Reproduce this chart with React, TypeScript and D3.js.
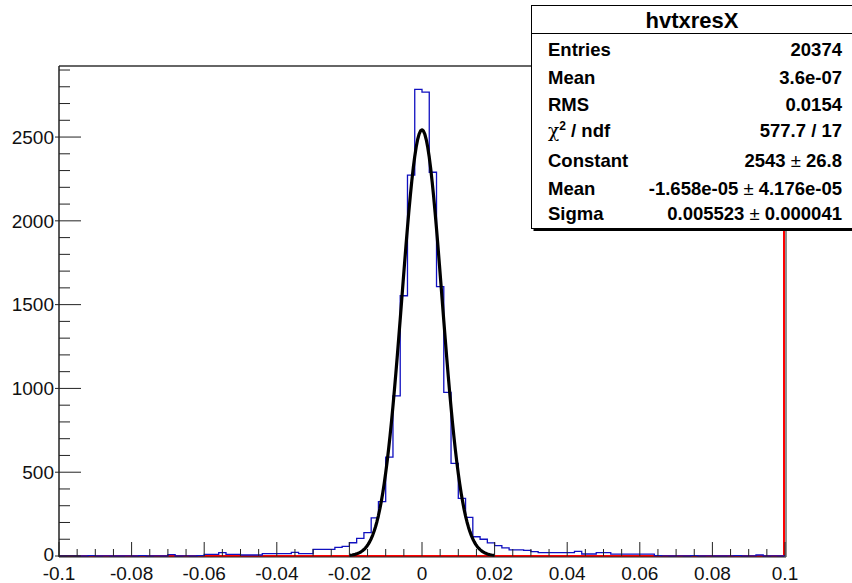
import * as d3 from "d3";
import { useEffect } from "react";

// histogram hvtxresX: 100 bins from -0.1 to 0.1
const binLow = -0.1;
const binWidth = 0.002;
const counts = [
  0, 1, 0, 0, 2, 0, 1, 0, 0, 1, 0, 2, 0, 1, 0,
  8, 0, 1, 0, 2,
  10, 10, 20, 10, 10,
  6, 6, 6, 14, 14,
  14, 14, 22, 14, 14,
  40, 40, 40, 52, 58,
  79, 105, 139, 227, 324,
  590, 955, 1553, 2273, 2785,
  2768, 2290, 1607, 977, 553,
  344, 230, 115, 100, 78,
  62, 48, 36, 36, 34,
  26, 20, 20, 20, 20,
  20, 28, 12, 12, 20,
  20, 11, 11, 11, 11,
  11, 11, 2, 1, 0,
  1, 0, 2, 0, 1,
  0, 0, 1, 2, 0,
  1, 6, 0, 1, 0,
];

// gaussian fit parameters (from stats box)
const fitRange = [-0.02, 0.02];
const fitConstant = 2543;
const fitMean = -1.658e-5;
const fitSigma = 0.005523;

const xTicks = [-0.1, -0.08, -0.06, -0.04, -0.02, 0, 0.02, 0.04, 0.06, 0.08, 0.1];
const xTickLabels = ["-0.1", "-0.08", "-0.06", "-0.04", "-0.02", "0", "0.02", "0.04", "0.06", "0.08", "0.1"];
const yTicks = [0, 500, 1000, 1500, 2000, 2500];

const statsTitle = "hvtxresX";
const statsNames = ["Entries", "Mean", "RMS", "chi2", "Constant", "Mean", "Sigma"];
const statsValues = ["20374", "3.6e-07", "0.0154", "577.7 / 17", "2543 ± 26.8", "-1.658e-05 ± 4.176e-05", "0.005523 ± 0.000041"];
const statsBaselines = [56, 83.5, 111, 137, 166.5, 194.5, 220];

const W = 852;
const H = 583;
const frame = { left: 59, right: 785, top: 66, bottom: 556 };
const font = "'Liberation Sans', Arial, Helvetica, sans-serif";

export default function App() {
  useEffect(() => {
    document.body.style.margin = "0";
  }, []);

  const x = d3.scaleLinear().domain([-0.1, 0.1]).range([frame.left, frame.right]);
  const y = d3.scaleLinear().domain([0, 2924]).range([frame.bottom, frame.top]);

  // step outline of the histogram
  const pts: [number, number][] = counts.map((c, i) => [binLow + i * binWidth, c]);
  pts.push([binLow + counts.length * binWidth, counts[counts.length - 1]]);
  const histPath = d3
    .line<[number, number]>()
    .x((d) => x(d[0]))
    .y((d) => y(d[1]))
    .curve(d3.curveStepAfter)(pts);

  const fitXs = d3.range(0, 101).map((i) => fitRange[0] + ((fitRange[1] - fitRange[0]) * i) / 100);
  const fitPath = d3
    .line<number>()
    .x((d) => x(d))
    .y((d) => y(fitConstant * Math.exp(-0.5 * ((d - fitMean) / fitSigma) ** 2)))(fitXs);

  const xMinor = d3.range(0, 41).map((i) => -0.1 + i * 0.005);
  const yMinor = d3.range(0, 30).map((i) => i * 100);

  const boxX = 531.5;
  const boxY = 5.5;
  const boxW = 330;
  const boxH = 223;

  return (
    <svg width={W} height={H} style={{ display: "block", background: "#fff" }}>
      {/* red histogram (empty) */}
      <line x1={frame.left} x2={frame.right - 1} y1={frame.bottom} y2={frame.bottom} stroke="#ff0000" strokeWidth={2} />
      <line x1={frame.right - 1} x2={frame.right - 1} y1={frame.top} y2={frame.bottom} stroke="#ff0000" strokeWidth={2} />

      {/* blue histogram */}
      <path d={histPath ?? ""} fill="none" stroke="#1010c0" strokeWidth={1.3} />

      {/* fit */}
      <path d={fitPath ?? ""} fill="none" stroke="#000" strokeWidth={3.2} strokeLinejoin="round" />

      {/* frame */}
      <line x1={frame.left} x2={frame.right} y1={frame.top} y2={frame.top} stroke="#333" strokeWidth={1.5} />
      <line x1={frame.left} x2={frame.left} y1={frame.top} y2={frame.bottom + 1} stroke="#222" strokeWidth={1.5} />
      <line x1={frame.left} x2={frame.right + 1} y1={frame.bottom + 1} y2={frame.bottom + 1} stroke="#222" strokeWidth={1.2} />
      <line x1={frame.right + 1} x2={frame.right + 1} y1={frame.top} y2={frame.bottom + 1} stroke="#222" strokeWidth={1} />

      {/* x ticks */}
      {xMinor.map((t, i) => {
        const major = i % 4 === 0;
        return (
          <line key={"xm" + i} x1={x(t)} x2={x(t)} y1={frame.bottom} y2={frame.bottom - (major ? 14 : 7)} stroke="#222" strokeWidth={1} />
        );
      })}
      {xTicks.map((t, i) => (
        <text key={"xl" + i} x={x(t)} y={580} textAnchor="middle" fontFamily={font} fontSize={19} fill="#111">
          {xTickLabels[i]}
        </text>
      ))}

      {/* y ticks */}
      {yMinor.map((t, i) => {
        const major = i % 5 === 0;
        return (
          <line key={"ym" + i} x1={frame.left - (major ? 4 : 0)} x2={frame.left + (major ? 22 : 11)} y1={y(t)} y2={y(t)} stroke="#222" strokeWidth={1} />
        );
      })}
      {yTicks.map((t, i) => (
        <text key={"yl" + i} x={54} y={t === 0 ? y(t) - 2 : y(t)} dy="0.36em" textAnchor="end" fontFamily={font} fontSize={19} fill="#111">
          {t}
        </text>
      ))}

      {/* stats box */}
      <rect x={boxX + 2} y={boxY + boxH} width={boxW} height={2.5} fill="#000" />
      <rect x={boxX} y={boxY} width={boxW} height={boxH} fill="#fff" stroke="#000" strokeWidth={1} />
      <line x1={boxX} x2={boxX + boxW} y1={33.5} y2={33.5} stroke="#000" strokeWidth={1} />
      <text x={692} y={28} textAnchor="middle" fontFamily={font} fontSize={22} fontWeight="bold" fill="#000">
        {statsTitle}
      </text>
      {statsNames.map((n, i) => (
        <text key={"sn" + i} x={548} y={statsBaselines[i]} fontFamily={font} fontSize={18.5} fontWeight="bold" fill="#000">
          {n === "chi2" ? (
            <>
              <tspan fontWeight="normal" fontFamily="'DejaVu Serif', serif">χ</tspan>
              <tspan dy={-7} fontSize={12}>2</tspan>
              <tspan dy={7}> / ndf</tspan>
            </>
          ) : (
            n
          )}
        </text>
      ))}
      {statsValues.map((v, i) => {
        const parts = v.split(" ± ");
        return (
          <text key={"sv" + i} x={842} y={statsBaselines[i]} textAnchor="end" fontFamily={font} fontSize={18.5} fontWeight="bold" fill="#000">
            {parts.length === 2 ? (
              <>
                {parts[0] + " "}
                <tspan fontWeight="normal">±</tspan>
                {" " + parts[1]}
              </>
            ) : (
              v
            )}
          </text>
        );
      })}
    </svg>
  );
}
